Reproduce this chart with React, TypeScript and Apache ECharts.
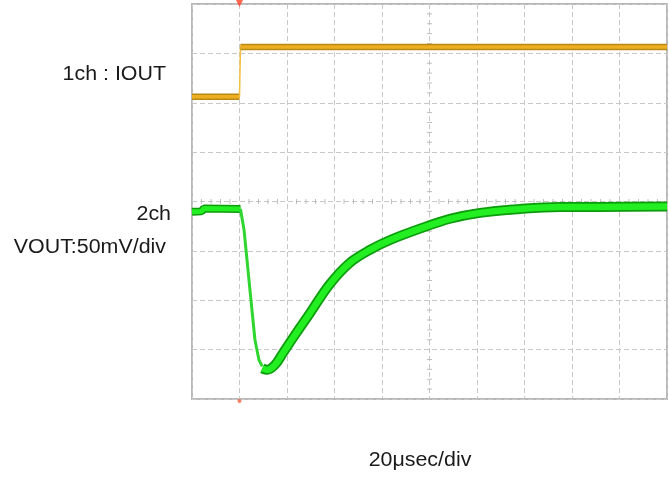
import React, { useEffect, useRef } from "react";
import * as echarts from "echarts";

// time in µs (20 µs/div, 10 div), values in divisions (0..8)
const yellowLowT = [0, 20];
const yellowLowV = [6.12, 6.12];
const yellowHighT = [20.4, 200];
const yellowHighV = [7.13, 7.13];

const greenPreT = [0, 4, 5, 20.4];
const greenPreV = [3.79, 3.8, 3.86, 3.85];
const greenDropT = [20.4, 21.9, 24.4, 26.5, 28.2, 29.6];
const greenDropV = [3.85, 3.43, 2.21, 1.2, 0.79, 0.66];
const greenRecT = [29.6, 31.6, 34.9, 38.3, 43.4, 49.7, 58.1, 66.5, 74.9, 83.4, 96.0, 108.6, 121.3, 138.1, 154.9, 171.8, 200];
const greenRecV = [0.62, 0.59, 0.69, 0.93, 1.3, 1.74, 2.33, 2.76, 3.02, 3.22, 3.45, 3.65, 3.77, 3.85, 3.89, 3.89, 3.9];

const triggerT = 20;

const zip = (t: number[], v: number[]) => t.map((x, i) => [x, v[i]]);

export default function App() {
  const ref = useRef<HTMLDivElement>(null);
  useEffect(() => {
    if (!ref.current) return;
    const chart = echarts.init(ref.current, undefined, { renderer: "svg" });
    const hTicks: number[][] = [];
    for (let t = 4; t < 200; t += 4) if (t % 20 !== 0) hTicks.push([t, 4]);
    const vTicks: number[][] = [];
    for (let k = 1; k < 40; k++) if (k % 5 !== 0) vTicks.push([100, k * 0.2]);
    const gridLine = { show: true, lineStyle: { color: "#c8c8c8", width: 1, type: [5, 3] as any } };
    const yellowDark = "#b88a14";
    const yellow = "#eeae22";
    const greenDark = "#0c9c0c";
    const green = "#22ee22";
    const font = "Liberation Sans, Arial";
    const txt = (text: string, x: number, y: number, align: string) => ({
      type: "text", x, y, scaleX: 1.07,
      style: { text, fontSize: 20, fontFamily: font, fill: "#1a1a1a", align, verticalAlign: "middle" },
    });
    chart.setOption({
      animation: false,
      grid: { left: 192, top: 4, width: 475, height: 395, show: true, borderColor: "#b8b8b8", borderWidth: 2, backgroundColor: "#fff" },
      xAxis: {
        type: "value", min: 0, max: 200, interval: 20,
        axisLabel: { show: false }, axisTick: { show: false }, axisLine: { show: false },
        splitLine: gridLine,
      },
      yAxis: {
        type: "value", min: 0, max: 8, interval: 1,
        axisLabel: { show: false }, axisTick: { show: false }, axisLine: { show: false },
        splitLine: gridLine,
      },
      series: [
        { type: "scatter", data: hTicks, symbol: "rect", symbolSize: [1, 5], itemStyle: { color: "#b0b0b0" }, silent: true },
        { type: "scatter", data: vTicks, symbol: "rect", symbolSize: [5, 1], itemStyle: { color: "#b0b0b0" }, silent: true },
        { type: "line", data: zip(yellowLowT, yellowLowV), showSymbol: false, lineStyle: { color: yellowDark, width: 6.5 } },
        { type: "line", data: zip(yellowLowT, yellowLowV), showSymbol: false, lineStyle: { color: yellow, width: 3.5 } },
        { type: "line", data: [[triggerT, yellowLowV[1]], [yellowHighT[0], yellowHighV[0]]], showSymbol: false, lineStyle: { color: "#f5c040", width: 1.5 } },
        { type: "line", data: zip(yellowHighT, yellowHighV), showSymbol: false, lineStyle: { color: yellowDark, width: 6.5 } },
        { type: "line", data: zip(yellowHighT, yellowHighV), showSymbol: false, lineStyle: { color: yellow, width: 3.5 } },
        { type: "line", data: zip(greenPreT, greenPreV), showSymbol: false, lineStyle: { color: greenDark, width: 8 } },
        { type: "line", data: zip(greenPreT, greenPreV), showSymbol: false, lineStyle: { color: green, width: 5 } },
        { type: "line", data: zip(greenDropT, greenDropV), showSymbol: false, lineStyle: { color: "#2fd62f", width: 3 } },
        { type: "line", data: zip(greenRecT, greenRecV), smooth: 0.35, showSymbol: false, lineStyle: { color: greenDark, width: 10 } },
        { type: "line", data: zip(greenRecT, greenRecV), smooth: 0.35, showSymbol: false, lineStyle: { color: green, width: 6.5 } },
        { type: "scatter", data: [[triggerT, 8]], symbol: "triangle", symbolRotate: 180, symbolSize: 8, symbolOffset: [0, -1], clip: false, itemStyle: { color: "#ff4020" } },
        { type: "scatter", data: [[triggerT, 0]], symbol: "circle", symbolSize: 4, symbolOffset: [0, 2], clip: false, itemStyle: { color: "#ff6040" } },
      ],
      graphic: [
        txt("1ch : IOUT", 166, 73, "right"),
        txt("2ch", 171, 213, "right"),
        txt("VOUT:50mV/div", 166, 246, "right"),
        txt("20μsec/div", 420, 459, "center"),
      ],
    });
    return () => chart.dispose();
  }, []);
  return <div ref={ref} style={{ position: "fixed", left: 0, top: 0, width: 669, height: 477 }} />;
}
